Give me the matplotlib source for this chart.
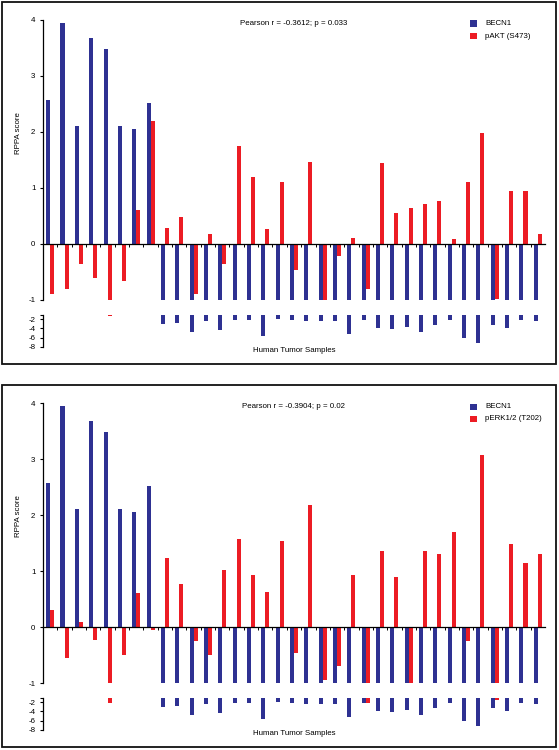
import matplotlib
matplotlib.use("Agg")
import matplotlib.pyplot as plt
from matplotlib.patches import Rectangle
import numpy as np

plt.rcParams['font.family'] = ['Liberation Sans', 'DejaVu Sans']

W, H = 559, 750

samples = list(range(1, 36))
becn1 = [2.57, 3.95, 2.11, 3.68, 3.49, 2.10, 2.06, 2.52,
         -3.0, -2.9, -4.7, -2.3, -4.35, -2.15, -2.15, -5.66, -2.0,
         -2.16, -2.38, -2.3, -2.38, -5.3, -2.15, -3.8, -4.2, -3.7,
         -4.7, -3.2, -2.15, -6.0, -7.27, -3.3, -4.0, -2.2, -2.38]
pakt = [-0.89, -0.80, -0.35, -0.61, -1.3, -0.66, 0.60, 2.19,
        0.28, 0.49, -0.90, 0.17, -0.36, 1.75, 1.20, 0.27, 1.10,
        -0.46, 1.46, -1.1, -0.21, 0.10, -0.80, 1.45, 0.56, 0.64,
        0.71, 0.77, 0.09, 1.10, 1.98, -0.98, 0.95, 0.95, 0.18]
perk = [0.30, -0.56, 0.09, -0.23, -2.2, -0.50, 0.60, -0.05,
        1.23, 0.76, -0.25, -0.50, 1.02, 1.58, 0.93, 0.63, 1.54,
        -0.46, 2.17, -0.94, -0.70, 0.92, -2.1, 1.36, 0.89, -1.15,
        1.35, 1.31, 1.70, -0.25, 3.08, -1.5, 1.49, 1.15, 1.30]

panels = [
    dict(red=pakt, label="pAKT (S473)", stat="Pearson r = -0.3612; p = 0.033"),
    dict(red=perk, label="pERK1/2 (T202)", stat="Pearson r = -0.3904; p = 0.02"),
]

upper_ticks = [4, 3, 2, 1, 0, -1]
lower_ticks = [-1, -2, -4, -6, -8]
lower_ticklabels = ["", "-2", "-4", "-6", "-8"]

BLUE = "#2E3192"
RED = "#EC1C24"
FS = 5.7

fig = plt.figure(figsize=(W / 100, H / 100), dpi=100)

def fx(px):
    return px / W

def fy(py):
    return 1 - py / H

x = np.arange(len(samples))
bw = 0.28
off = 0.14

for k, p in enumerate(panels):
    dy = 383 * k
    # border
    fig.add_artist(Rectangle((fx(2), fy(363.5 + dy)), fx(554), (361.5) / H,
                             transform=fig.transFigure, fill=False,
                             lw=1.3, edgecolor="#111111"))
    left, right = 43, 545
    # upper axes
    axu = fig.add_axes([fx(left), fy(300 + dy), fx(right - left), (300 - 20) / H])
    axu.bar(x - off, becn1, width=bw, color=BLUE, zorder=2)
    axu.bar(x + off, p["red"], width=bw, color=RED, zorder=2)
    axu.set_xlim(-0.5, len(samples) - 0.5)
    axu.set_ylim(-1, 4)
    axu.set_yticks(upper_ticks)
    axu.set_yticklabels([str(t) for t in upper_ticks])
    axu.spines['top'].set_visible(False)
    axu.spines['right'].set_visible(False)
    axu.spines['bottom'].set_position(('data', 0))
    axu.spines['bottom'].set_zorder(3)
    for s in ('left', 'bottom'):
        axu.spines[s].set_linewidth(0.9)
    axu.set_xticks(x[:-1] + 0.5)
    axu.set_xticklabels([])
    axu.tick_params(axis='x', direction='out', length=2.3, width=0.7)
    axu.tick_params(axis='y', direction='out', length=2.5, width=0.8,
                    labelsize=FS, pad=3)
    axu.patch.set_alpha(0)

    # lower axes
    axl = fig.add_axes([fx(left), fy(346.7 + dy), fx(right - left), (346.7 - 314.7) / H])
    axl.bar(x - off, becn1, width=bw, color=BLUE)
    axl.bar(x + off, p["red"], width=bw, color=RED)
    axl.set_xlim(-0.5, len(samples) - 0.5)
    axl.set_ylim(-8, -1)
    axl.set_yticks(lower_ticks)
    axl.set_yticklabels(lower_ticklabels)
    for s in ('top', 'right', 'bottom'):
        axl.spines[s].set_visible(False)
    axl.spines['left'].set_linewidth(0.9)
    axl.set_xticks([])
    axl.tick_params(axis='y', direction='out', length=2.5, width=0.8,
                    labelsize=FS, pad=3)
    axl.patch.set_alpha(0)

    # texts
    fig.text(fx(294), fy(23.5 + dy), p["stat"], ha='center', va='center', fontsize=FS)
    fig.text(fx(294), fy(350.5 + dy), "Human Tumor Samples", ha='center',
             va='center', fontsize=FS)
    fig.text(fx(18), fy(133 + dy), "RPPA score", rotation=90, ha='center',
             va='center', fontsize=FS)
    # legend
    fig.add_artist(Rectangle((fx(470), fy(26.5 + dy)), fx(7), 6 / H,
                             transform=fig.transFigure, color=BLUE, lw=0))
    fig.add_artist(Rectangle((fx(470), fy(39 + dy)), fx(7), 6 / H,
                             transform=fig.transFigure, color=RED, lw=0))
    fig.text(fx(485), fy(23.5 + dy), "BECN1", ha='left', va='center', fontsize=FS)
    fig.text(fx(485), fy(36 + dy), p["label"], ha='left', va='center', fontsize=FS)

fig.savefig("out.png", dpi=100)
